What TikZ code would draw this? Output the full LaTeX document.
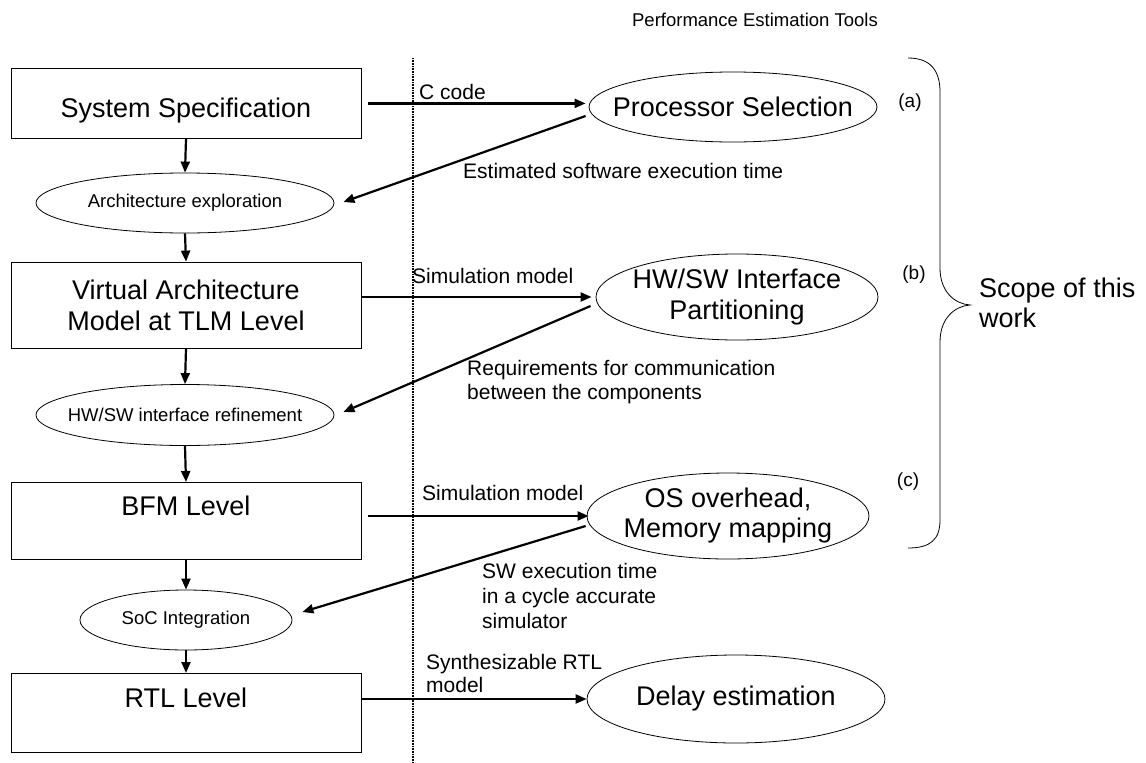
\documentclass[tikz,border=0pt]{standalone}
\usepackage{fontspec}
\setmainfont{Liberation Sans}
\usetikzlibrary{arrows.meta,shapes.geometric,calc}
\begin{document}
\begin{tikzpicture}[x=1pt,y=-1pt,
  box/.style={draw, line width=0.8pt, rectangle, minimum width=350pt, inner sep=0pt, font=\fontsize{27}{31}\selectfont, align=center},
  ell/.style={draw, ellipse, line width=0.8pt, inner sep=0pt},
  smtxt/.style={inner sep=0pt, font=\fontsize{18.5}{22}\selectfont},
  bigtxt/.style={inner sep=0pt, font=\fontsize{27}{31}\selectfont, align=center},
  lbl/.style={inner sep=0pt, font=\fontsize{21}{24}\selectfont, align=left, anchor=base west},
  flow/.style={line width=2.2pt, -{Triangle[length=11pt,width=9pt]}},
  dotline/.style={line width=1.4pt, dash pattern=on 0.8pt off 0.8pt},
]
\useasboundingbox (0,0) rectangle (1146,763);

% title
\node[inner sep=0pt, font=\fontsize{18.5}{22}\selectfont] (title) at (755,20) {Performance Estimation Tools};

% left flow
\node[box, text height=49pt, text depth=21pt, anchor=north] (sys) at (186,68) {System Specification};
\node[ell, minimum width=298pt, minimum height=60pt] (arch) at (185,203) {};
\node[smtxt] (archt) at (arch) {Architecture exploration};
\node[box, minimum height=86pt] (vam) at (186,305) {Virtual Architecture\\Model at TLM Level};
\node[ell, minimum width=298pt, minimum height=61pt] (hwref) at (185,415) {};
\node[smtxt] (hwreft) at (hwref) {HW/SW interface refinement};
\node[box, text height=33pt, text depth=44pt, anchor=north] (bfm) at (186,482) {BFM Level};
\node[ell, minimum width=212pt, minimum height=60pt] (soc) at (186,620) {};
\node[smtxt] (soct) at (soc) {SoC Integration};
\node[box, text height=34pt, text depth=45pt, anchor=north] (rtl) at (186,673) {RTL Level};

% right tools
\node[ell, minimum width=288pt, minimum height=70pt] (ps) at (733,107) {};
\node[bigtxt] (pst) at (ps) {Processor Selection};
\node[ell, minimum width=282pt, minimum height=86pt] (hwp) at (737,297) {};
\node[bigtxt] (hwpt) at (hwp) {HW/SW Interface\\Partitioning};
\node[ell, minimum width=282pt, minimum height=86pt] (os) at (728,516) {};
\node[bigtxt, font=\fontsize{27}{30}\selectfont] (ost) at (os) {OS overhead,\\Memory mapping};
\node[ell, minimum width=298pt, minimum height=88pt] (de) at (736,699) {};
\node[bigtxt] (det) at (de) {Delay estimation};

% dotted separator
\coordinate (dtop) at (413,58);
\coordinate (dbot) at (413,763);
\draw[dotline] (dtop) -- (dbot);

% vertical flow arrows
\draw[flow] (sys.south) -- (arch.north);
\draw[flow] (arch.south) -- (vam.north);
\draw[flow] (vam.south) -- (hwref.north);
\draw[flow] (hwref.south) -- (bfm.north);
\draw[flow] (bfm.south) -- (soc.north);
\draw[flow] (soc.south) -- (rtl.north);

% horizontal arrows
\draw[flow] ($(sys.east)+(7,0)$) -- ($(sys.east -| ps.west)+(-3,0)$);
\draw[flow] ($(ps.west)+(-3,9)$) -- ($(arch.east)+(9,-1)$);
\draw[flow] ($(vam.east |- hwp.west)+(1,0)$) -- ($(hwp.west)+(-4,0)$);
\draw[flow] ($(hwp.west)+(-5,9)$) -- ($(hwref.east)+(9,-3)$);
\draw[flow] ($(bfm.east |- os.west)+(7,0)$) -- ($(os.west)+(2,0)$);
\draw[flow] ($(os.west)+(-1,10)$) -- ($(soc.east)+(10,-8)$);
\draw[flow] (rtl.east |- de.west) -- (de.west);

% labels (multi-line nodes are anchored at the baseline of their last line)
\node[lbl] (l1) at (419,99) {C code};
\node[lbl] (l2) at (463,178) {Estimated software execution time};
\node[lbl] (l3) at (412,283) {Simulation model};
\node[lbl] (l4) at (467,399) {Requirements for communication\\between the components};
\node[lbl] (l5) at (422,500) {Simulation model};
\node[lbl, font=\fontsize{21}{25}\selectfont] (l6) at (482,628) {SW execution time\\in a cycle accurate\\simulator};
\node[lbl, font=\fontsize{21}{23}\selectfont] (l7) at (426,692) {Synthesizable RTL\\model};

% (a) (b) (c)
\node[inner sep=0pt, font=\fontsize{19}{22}\selectfont] (ta) at (910,103) {(a)};
\node[inner sep=0pt, font=\fontsize{19}{22}\selectfont] (tb) at (914,275) {(b)};
\node[inner sep=0pt, font=\fontsize{19}{22}\selectfont] (tc) at (908,482) {(c)};

% brace
\draw[line width=0.8pt] (908,58) .. controls (930,58) and (940,70) .. (940,92)
  -- (940,268) .. controls (940,292) and (955,304) .. (970,305)
  .. controls (955,306) and (940,318) .. (940,342)
  -- (940,520) .. controls (940,540) and (930,548) .. (908,548);
\node[inner sep=0pt, font=\fontsize{27}{30}\selectfont, align=left, anchor=base west] (scope) at (979,327) {Scope of this\\work};
\end{tikzpicture}
\end{document}
